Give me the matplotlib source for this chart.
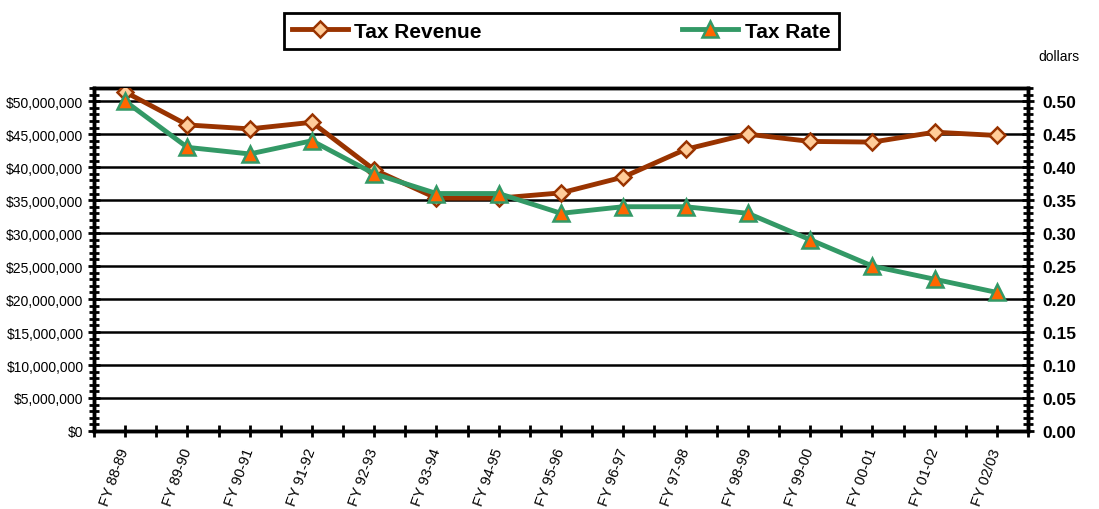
import numpy as np
import matplotlib.pyplot as plt
from matplotlib.ticker import FuncFormatter, MultipleLocator

plt.rcParams['font.family'] = ['Liberation Sans', 'DejaVu Sans']

# data
years = ['FY 88-89', 'FY 89-90', 'FY 90-91', 'FY 91-92', 'FY 92-93', 'FY 93-94',
         'FY 94-95', 'FY 95-96', 'FY 96-97', 'FY 97-98', 'FY 98-99', 'FY 99-00',
         'FY 00-01', 'FY 01-02', 'FY 02/03']
revenue = [51.4e6, 46.4e6, 45.8e6, 46.8e6, 39.6e6, 35.3e6, 35.3e6, 36.1e6,
           38.5e6, 42.7e6, 45.0e6, 43.9e6, 43.8e6, 45.3e6, 44.8e6]
rate = [0.50, 0.43, 0.42, 0.44, 0.39, 0.36, 0.36, 0.33,
        0.34, 0.34, 0.33, 0.29, 0.25, 0.23, 0.21]

fig = plt.figure(figsize=(10.99, 5.10), dpi=100)
ax = fig.add_axes([0.0855, 0.153, 0.85, 0.6725])
ax2 = ax.twinx()

x = np.arange(len(years))

# grid lines behind the data
ax.set_ylim(0, 52e6)
ax2.set_ylim(0, 0.52)
for v in np.arange(5e6, 50.1e6, 5e6):
    ax.axhline(v, color='black', lw=1.8, zorder=1)

# revenue is drawn on the right axis scaled by 1e8 so both lines share one axes
l1, = ax2.plot(x, np.array(revenue) / 1e8, color='#993300', lw=3.5,
               marker='D', ms=8, mfc='#FFCC99', mec='#993300', mew=1.8,
               zorder=3, label='Tax Revenue')
l2, = ax2.plot(x, rate, color='#339966', lw=3.5, marker='^', ms=11,
               mfc='#FF6600', mec='#339966', mew=1.8, zorder=4, label='Tax Rate')

ax.set_xlim(-0.5, len(years) - 0.5)
ax.set_xticks(x)
ax.set_xticklabels(years, rotation=70, ha='right', va='center',
                   rotation_mode='anchor', fontsize=10.5)
ax.set_xticks(np.arange(-0.5, len(years), 1), minor=True)
ax.tick_params(axis='x', which='both', direction='inout', length=9, width=2,
               pad=8)

ax.yaxis.set_major_locator(MultipleLocator(5e6))
ax.yaxis.set_minor_locator(MultipleLocator(1e6))
ax.yaxis.set_major_formatter(FuncFormatter(lambda v, p: '${:,.0f}'.format(v)))
ax.tick_params(axis='y', which='major', direction='inout', length=9, width=2,
               labelsize=10, pad=3)
ax.tick_params(axis='y', which='minor', direction='inout', length=7, width=2)

ax2.yaxis.set_major_locator(MultipleLocator(0.05))
ax2.yaxis.set_minor_locator(MultipleLocator(0.01))
ax2.yaxis.set_major_formatter(FuncFormatter(lambda v, p: '{:.2f}'.format(v)))
ax2.tick_params(axis='y', which='major', direction='inout', length=9, width=2,
                labelsize=12.5, pad=6)
ax2.tick_params(axis='y', which='minor', direction='inout', length=7, width=2)
for lab in ax2.get_yticklabels():
    lab.set_fontweight('bold')

for a in (ax, ax2):
    for s in a.spines.values():
        s.set_linewidth(2.5)

fig.text(0.982, 0.888, 'dollars', fontsize=10, ha='right', va='center')

leg = fig.legend(handles=[l1, l2], loc='lower left', ncol=2, mode='expand',
                 bbox_to_anchor=(0.258, 0.902, 0.505, 0.082),
                 prop={'weight': 'bold', 'size': 15}, frameon=True,
                 fancybox=False, edgecolor='black', framealpha=1,
                 handlelength=2.7, handletextpad=0.3, borderaxespad=0)
leg.get_frame().set_linewidth(2)

fig.savefig('out.png', dpi=100)
